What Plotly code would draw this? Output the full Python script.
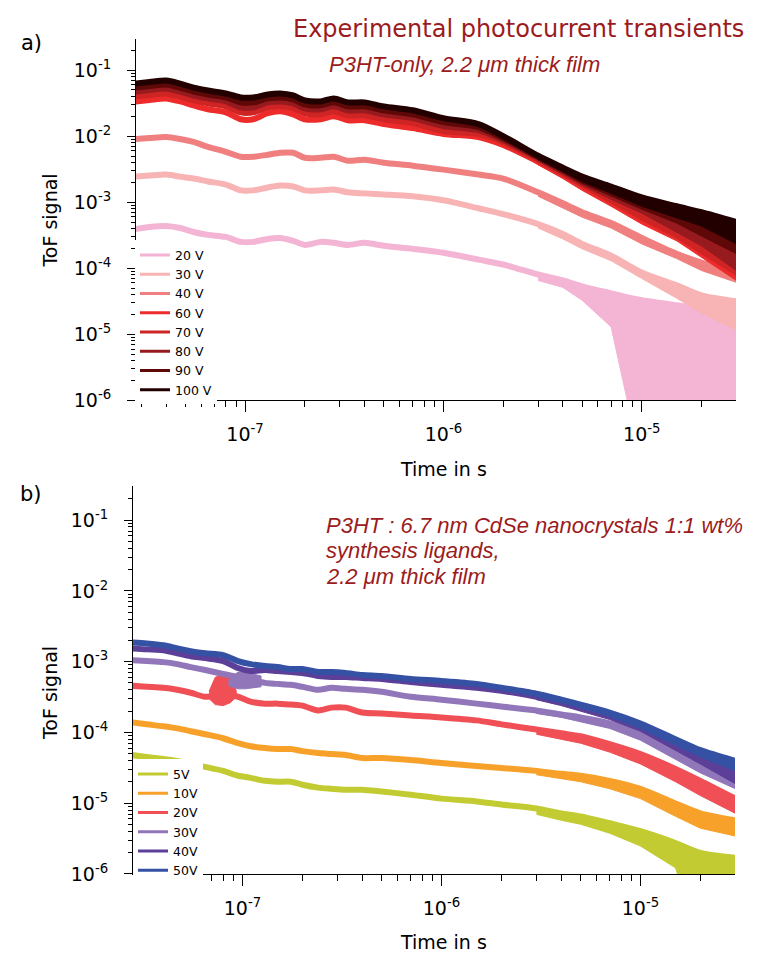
import plotly.graph_objects as go
from plotly.subplots import make_subplots

FONT = "DejaVu Sans"
NOTE_RED = "#9b1b20"

# time grid shared by every transient (s)
t = [2.8e-8, 3.3e-8, 4e-8, 4.7e-8, 5.5e-8, 6.5e-8, 8e-8, 9.5e-8, 1.1e-7, 1.3e-7,
     1.5e-7, 1.75e-7, 2e-7, 2.4e-7, 2.8e-7, 3.3e-7, 4e-7, 5e-7, 7e-7, 1e-6,
     1.5e-6, 2e-6, 3e-6, 4e-6, 5e-6, 7e-6, 1e-5, 1.5e-5, 2e-5, 3e-5]
# late part of the grid, where the noise band opens up
t_tail = [3e-6, 4e-6, 5e-6, 7e-6, 1e-5, 1.5e-5, 2e-5, 3e-5]

# ---- panel a) P3HT-only ----
a_labels = ["20 V", "30 V", "40 V", "60 V", "70 V", "80 V", "90 V", "100 V"]
a_colors = ["#f4b4d4", "#f8b4b4", "#f08080", "#ee2b2b", "#cf2424", "#961a1e", "#5e0808", "#220000"]

a_20v = [3.93e-4, 4.21e-4, 4.36e-4, 4.07e-4, 3.54e-4, 3.20e-4, 2.98e-4, 2.51e-4, 2.51e-4, 2.78e-4,
         2.88e-4, 2.60e-4, 2.26e-4, 2.51e-4, 2.43e-4, 2.26e-4, 2.43e-4, 2.19e-4, 1.97e-4, 1.72e-4,
         1.35e-4, 1.14e-4, 8.05e-5, 6.54e-5, 5.32e-5, 4.18e-5, 3.28e-5, 2.76e-5, 2.49e-5, 2.25e-5]
a_30v = [2.44e-3, 2.53e-3, 2.62e-3, 2.44e-3, 2.28e-3, 2.06e-3, 1.85e-3, 1.51e-3, 1.51e-3, 1.67e-3,
         1.79e-3, 1.73e-3, 1.51e-3, 1.51e-3, 1.56e-3, 1.41e-3, 1.36e-3, 1.31e-3, 1.23e-3, 1.07e-3,
         8.10e-4, 6.59e-4, 4.67e-4, 3.31e-4, 2.34e-4, 1.55e-4, 8.62e-5, 5.51e-5, 3.90e-5, 3.17e-5]
a_40v = [9.05e-3, 9.37e-3, 9.69e-3, 9.05e-3, 8.16e-3, 6.87e-3, 5.78e-3, 4.87e-3, 4.87e-3, 5.21e-3,
         5.59e-3, 5.59e-3, 4.70e-3, 4.70e-3, 4.87e-3, 4.24e-3, 4.39e-3, 3.96e-3, 3.57e-3, 3.11e-3,
         2.62e-3, 2.28e-3, 1.41e-3, 9.63e-4, 7.06e-4, 4.83e-4, 2.88e-4, 1.66e-4, 1.22e-4, 8.93e-5]
a_60v = [0.0335, 0.0353, 0.0372, 0.0335, 0.0292, 0.0255, 0.0229, 0.0180, 0.0180, 0.0222,
         0.0238, 0.0214, 0.0180, 0.0180, 0.0200, 0.0174, 0.0174, 0.0152, 0.0132, 0.0108,
         9.69e-3, 7.36e-3, 4.10e-3, 2.62e-3, 1.85e-3, 1.11e-3, 6.59e-4, 3.67e-4, 2.34e-4, 1.02e-4]
a_70v = [0.0399, 0.0419, 0.0442, 0.0399, 0.0347, 0.0313, 0.0282, 0.0229, 0.0229, 0.0273,
         0.0282, 0.0263, 0.0222, 0.0214, 0.0238, 0.0207, 0.0207, 0.0180, 0.0157, 0.0119,
         0.0108, 8.16e-3, 4.39e-3, 2.80e-3, 1.99e-3, 1.23e-3, 7.56e-4, 4.36e-4, 2.88e-4, 1.35e-4]
a_80v = [0.0473, 0.0499, 0.0525, 0.0473, 0.0412, 0.0372, 0.0335, 0.0273, 0.0273, 0.0324,
         0.0335, 0.0313, 0.0263, 0.0255, 0.0282, 0.0246, 0.0246, 0.0214, 0.0187, 0.0142,
         0.0123, 8.74e-3, 4.70e-3, 3.00e-3, 2.13e-3, 1.41e-3, 8.99e-4, 5.74e-4, 4.07e-4, 2.19e-4]
a_90v = [0.0543, 0.0572, 0.0603, 0.0543, 0.0473, 0.0427, 0.0385, 0.0324, 0.0324, 0.0372,
         0.0385, 0.0359, 0.0302, 0.0292, 0.0324, 0.0282, 0.0282, 0.0246, 0.0214, 0.0163,
         0.0137, 9.37e-3, 4.87e-3, 3.11e-3, 2.28e-3, 1.51e-3, 9.97e-4, 6.82e-4, 5.18e-4, 2.88e-4]
a_100v = [0.0624, 0.0657, 0.0692, 0.0624, 0.0543, 0.0490, 0.0442, 0.0385, 0.0385, 0.0427,
          0.0442, 0.0412, 0.0347, 0.0335, 0.0372, 0.0324, 0.0324, 0.0282, 0.0246, 0.0187,
          0.0152, 0.0100, 5.04e-3, 3.33e-3, 2.44e-3, 1.73e-3, 1.18e-3, 8.68e-4, 7.06e-4, 5.00e-4]

# lower edge of the noise band on t_tail
a_20v_lo = [6.54e-5, 5.14e-5, 3.28e-5, 1.30e-5, 1e-7, 1e-7, 1e-7, 1e-7]
a_30v_lo = [4.07e-4, 2.78e-4, 1.97e-4, 1.30e-4, 7.01e-5, 3.52e-5, 2.10e-5, 1.17e-5]
a_40v_lo = [1.23e-3, 8.10e-4, 5.94e-4, 4.07e-4, 2.34e-4, 1.40e-4, 9.24e-5, 6.11e-5]
a_60v_lo = [3.69e-3, 2.28e-3, 1.51e-3, 8.68e-4, 4.67e-4, 2.60e-4, 1.45e-4, 6.54e-5]
a_70v_lo = [3.96e-3, 2.44e-3, 1.67e-3, 9.63e-4, 5.36e-4, 2.88e-4, 1.66e-4, 7.78e-5]
a_80v_lo = [4.24e-3, 2.62e-3, 1.79e-3, 1.11e-3, 6.82e-4, 3.54e-4, 2.19e-4, 9.24e-5]
a_90v_lo = [4.39e-3, 2.80e-3, 1.92e-3, 1.23e-3, 7.83e-4, 4.83e-4, 3.09e-4, 1.66e-4]
a_100v_lo = [4.54e-3, 2.90e-3, 2.06e-3, 1.36e-3, 8.68e-4, 5.74e-4, 4.36e-4, 2.34e-4]

# ---- panel b) P3HT : CdSe nanocrystals ----
b_labels = ["5V", "10V", "20V", "30V", "40V", "50V"]
b_colors = ["#c2cc32", "#f7a12a", "#ef4f55", "#9177b9", "#5b3f98", "#3451a4"]

b_5v = [4.79e-5, 4.49e-5, 4.21e-5, 3.95e-5, 3.58e-5, 3.26e-5, 2.86e-5, 2.44e-5, 2.28e-5, 2.07e-5,
        2.01e-5, 2.01e-5, 1.82e-5, 1.66e-5, 1.60e-5, 1.55e-5, 1.55e-5, 1.46e-5, 1.32e-5, 1.16e-5,
        1.06e-5, 9.59e-6, 8.43e-6, 7.18e-6, 6.52e-6, 5.21e-6, 4.02e-6, 2.74e-6, 1.98e-6, 1.69e-6]
b_10v = [1.38e-4, 1.30e-4, 1.22e-4, 1.14e-4, 1.04e-4, 9.41e-5, 8.27e-5, 7.04e-5, 6.39e-5, 6.00e-5,
         5.81e-5, 5.81e-5, 5.44e-5, 5.10e-5, 4.94e-5, 4.79e-5, 4.35e-5, 4.35e-5, 4.08e-5, 3.70e-5,
         3.36e-5, 3.15e-5, 2.86e-5, 2.60e-5, 2.44e-5, 2.07e-5, 1.60e-5, 9.90e-6, 7.18e-6, 5.73e-6]
b_20v = [4.55e-4, 4.41e-4, 4.27e-4, 4.00e-4, 3.63e-4, 3.19e-4, 3.41e-4, 3.19e-4, 2.72e-4, 2.55e-4,
         2.55e-4, 2.47e-4, 2.39e-4, 2.04e-4, 2.24e-4, 2.24e-4, 1.91e-4, 1.85e-4, 1.73e-4, 1.63e-4,
         1.48e-4, 1.30e-4, 1.10e-4, 9.71e-5, 8.82e-5, 6.82e-5, 4.94e-5, 3.05e-5, 2.07e-5, 1.16e-5]
b_30v = [1.05e-3, 1.02e-3, 9.84e-4, 9.23e-4, 8.38e-4, 7.61e-4, 6.69e-4, 6.08e-4, 5.52e-4, 5.01e-4,
         4.85e-4, 4.70e-4, 4.41e-4, 4.00e-4, 4.27e-4, 4.13e-4, 4.00e-4, 3.75e-4, 3.19e-4, 2.90e-4,
         2.55e-4, 2.32e-4, 2.04e-4, 1.79e-4, 1.63e-4, 1.34e-4, 9.41e-5, 5.44e-5, 3.70e-5, 2.36e-5]
b_40v = [1.54e-3, 1.49e-3, 1.45e-3, 1.31e-3, 1.19e-3, 1.12e-3, 1.02e-3, 8.12e-4, 7.37e-4, 7.61e-4,
         7.37e-4, 7.14e-4, 6.91e-4, 6.27e-4, 6.08e-4, 6.08e-4, 5.88e-4, 5.70e-4, 5.17e-4, 4.70e-4,
         4.27e-4, 3.87e-4, 3.19e-4, 2.63e-4, 2.24e-4, 1.73e-4, 1.22e-4, 6.82e-5, 4.64e-5, 3.05e-5]
b_50v = [1.87e-3, 1.81e-3, 1.70e-3, 1.54e-3, 1.40e-3, 1.31e-3, 1.23e-3, 1.02e-3, 9.23e-4, 8.66e-4,
         8.38e-4, 7.86e-4, 7.86e-4, 7.14e-4, 7.14e-4, 6.91e-4, 6.48e-4, 6.27e-4, 5.70e-4, 5.34e-4,
         4.85e-4, 4.27e-4, 3.52e-4, 2.90e-4, 2.47e-4, 1.91e-4, 1.34e-4, 8.01e-5, 5.62e-5, 3.95e-5]

b_5v_lo = [6.95e-6, 5.73e-6, 5.04e-6, 3.77e-6, 2.48e-6, 1.22e-6, 1e-7, 1e-7]
b_10v_lo = [2.52e-5, 2.21e-5, 2.01e-5, 1.60e-5, 1.16e-5, 6.52e-6, 4.43e-6, 3.43e-6]
b_20v_lo = [9.41e-5, 8.01e-5, 7.04e-5, 5.27e-5, 3.58e-5, 2.01e-5, 1.28e-5, 7.18e-6]
b_30v_lo = [1.85e-4, 1.63e-4, 1.43e-4, 1.14e-4, 7.76e-5, 4.21e-5, 2.68e-5, 1.60e-5]
b_40v_lo = [2.90e-4, 2.39e-4, 1.97e-4, 1.52e-4, 1.04e-4, 5.62e-5, 3.58e-5, 1.88e-5]
b_50v_lo = [3.19e-4, 2.63e-4, 2.24e-4, 1.68e-4, 1.14e-4, 6.60e-5, 4.49e-5, 2.86e-5]

# short noisy bursts near 1e-7 s in the 20V and 30V transients
burst_20v_t = [6.8e-8, 7.3e-8, 8e-8, 8.7e-8, 9.3e-8]
burst_20v_hi = [3.80e-4, 6.00e-4, 6.69e-4, 5.80e-4, 3.90e-4]
burst_20v_lo = [3.00e-4, 2.47e-4, 2.39e-4, 2.63e-4, 3.19e-4]
burst_30v_t = [8.5e-8, 9.5e-8, 1.03e-7, 1.24e-7]
burst_30v_hi = [5.52e-4, 7.14e-4, 7.14e-4, 6.27e-4]
burst_30v_lo = [4.55e-4, 4.13e-4, 4.13e-4, 4.41e-4]

y_ticks = [1e-6, 1e-5, 1e-4, 1e-3, 1e-2, 1e-1]
y_ticktext = ["10<sup>-6</sup>", "10<sup>-5</sup>", "10<sup>-4</sup>",
              "10<sup>-3</sup>", "10<sup>-2</sup>", "10<sup>-1</sup>"]
x_ticks = [1e-7, 1e-6, 1e-5]
x_ticktext = ["10<sup>-7</sup>", "10<sup>-6</sup>", "10<sup>-5</sup>"]


def add_band(fig, x, hi, lo, color, row):
    fig.add_trace(
        go.Scatter(
            x=list(x) + list(x)[::-1],
            y=list(hi) + list(lo)[::-1],
            mode="lines",
            fill="toself",
            fillcolor=color,
            line={"color": color, "width": 1},
            hoverinfo="skip",
            showlegend=False,
        ),
        row=row,
        col=1,
    )


def add_transient(fig, y, lo, color, row):
    add_band(fig, t_tail, y[-len(t_tail):], lo, color, row)
    fig.add_trace(
        go.Scatter(x=t, y=y, mode="lines", line_shape="spline",
                   line={"color": color, "width": 6, "smoothing": 0.8},
                   showlegend=False),
        row=row,
        col=1,
    )


def add_legend_entry(fig, name, color, legend, row):
    fig.add_trace(
        go.Scatter(x=[None], y=[None], mode="lines", name=name,
                   line={"color": color, "width": 3}, legend=legend),
        row=row,
        col=1,
    )


fig = make_subplots(rows=2, cols=1)

a_series = [a_20v, a_30v, a_40v, a_60v, a_70v, a_80v, a_90v, a_100v]
a_lows = [a_20v_lo, a_30v_lo, a_40v_lo, a_60v_lo, a_70v_lo, a_80v_lo, a_90v_lo, a_100v_lo]
for y, lo, color in zip(a_series, a_lows, a_colors):
    add_transient(fig, y, lo, color, row=1)

b_series = [b_5v, b_10v, b_20v, b_30v, b_40v, b_50v]
b_lows = [b_5v_lo, b_10v_lo, b_20v_lo, b_30v_lo, b_40v_lo, b_50v_lo]
for name, y, lo, color in zip(b_labels, b_series, b_lows, b_colors):
    add_transient(fig, y, lo, color, row=2)
    if name == "20V":
        add_band(fig, burst_20v_t, burst_20v_hi, burst_20v_lo, color, row=2)
    if name == "30V":
        add_band(fig, burst_30v_t, burst_30v_hi, burst_30v_lo, color, row=2)

for name, color in zip(a_labels, a_colors):
    add_legend_entry(fig, name, color, "legend", row=1)
for name, color in zip(b_labels, b_colors):
    add_legend_entry(fig, name, color, "legend2", row=2)

W, H = 771, 960

x_common = dict(
    type="log", range=[-7.55, -4.525], showline=True, linecolor="black", linewidth=1,
    ticks="outside", ticklen=11, tickwidth=1, tickcolor="black",
    tickmode="array", tickvals=x_ticks, ticktext=x_ticktext, ticklabelstandoff=6,
    tickfont={"family": FONT, "size": 19, "color": "black"},
    minor={"ticks": "outside", "ticklen": 6, "tickwidth": 1, "tickcolor": "black",
           "dtick": "D1", "showgrid": False},
    showgrid=False, zeroline=False,
)
y_common = dict(
    type="log", range=[-6, -0.525], showline=True, linecolor="black", linewidth=1,
    ticks="outside", ticklen=8, tickwidth=1, tickcolor="black",
    tickmode="array", tickvals=y_ticks, ticktext=y_ticktext, ticklabelstandoff=12,
    tickfont={"family": FONT, "size": 19, "color": "black"},
    minor={"ticks": "outside", "ticklen": 4, "tickwidth": 1, "tickcolor": "black",
           "dtick": "D1", "showgrid": False},
    showgrid=False, zeroline=False,
)

legend_font = {"family": FONT, "size": 12.5, "color": "black"}
fig.update_layout(
    xaxis=dict(x_common, domain=[128 / W, 728 / W]),
    yaxis=dict(y_common, domain=[1 - 397 / H, 1 - 31 / H]),
    xaxis2=dict(x_common, domain=[125 / W, 727 / W]),
    yaxis2=dict(y_common, domain=[1 - 876 / H, 1 - 484 / H]),
    legend=dict(x=127 / W, y=1 - 235 / H, xanchor="left", yanchor="top",
                bgcolor="white", font=legend_font, itemwidth=30, tracegroupgap=0),
    legend2=dict(x=125 / W, y=1 - 760 / H, xanchor="left", yanchor="top",
                 bgcolor="white", font=legend_font, itemwidth=30, tracegroupgap=0),
    width=W,
    height=H,
    margin=dict(l=0, r=0, t=0, b=0),
    plot_bgcolor="white",
    paper_bgcolor="white",
    showlegend=True,
)

axis_font = {"family": FONT, "size": 19, "color": "black"}
note_font = {"family": "Liberation Sans", "size": 22, "color": NOTE_RED}
annotations = [
    dict(text="a)", x=23 / W, y=1 - 35 / H, font={"family": FONT, "size": 21, "color": "black"}),
    dict(text="b)", x=23 / W, y=1 - 492 / H, font={"family": FONT, "size": 21, "color": "black"}),
    dict(text="ToF signal", x=42 / W, y=1 - 215 / H, textangle=-90, font=axis_font),
    dict(text="ToF signal", x=42 / W, y=1 - 693 / H, textangle=-90, font=axis_font),
    dict(text="Time in s", x=435 / W, y=1 - 466 / H, font=axis_font),
    dict(text="Time in s", x=435 / W, y=1 - 945 / H, font=axis_font),
    dict(text="Experimental photocurrent transients", x=283 / W, y=1 - 21 / H, xanchor="left",
         font={"family": FONT, "size": 24, "color": NOTE_RED}),
    dict(text="<i>P3HT-only, 2.2 μm thick film</i>", x=456 / W, y=1 - 57 / H, font=note_font),
    dict(text="<i>P3HT : 6.7 nm CdSe nanocrystals 1:1 wt%</i>", x=316 / W, y=1 - 523 / H,
         xanchor="left", font=note_font),
    dict(text="<i>synthesis ligands,</i>", x=316 / W, y=1 - 549 / H, xanchor="left", font=note_font),
    dict(text="<i>2.2 μm thick film</i>", x=316 / W, y=1 - 575 / H, xanchor="left", font=note_font),
]
for ann in annotations:
    ann.setdefault("xanchor", "center")
    ann.setdefault("yanchor", "middle")
    fig.add_annotation(xref="paper", yref="paper", showarrow=False, **ann)

fig.write_html("out.html")
